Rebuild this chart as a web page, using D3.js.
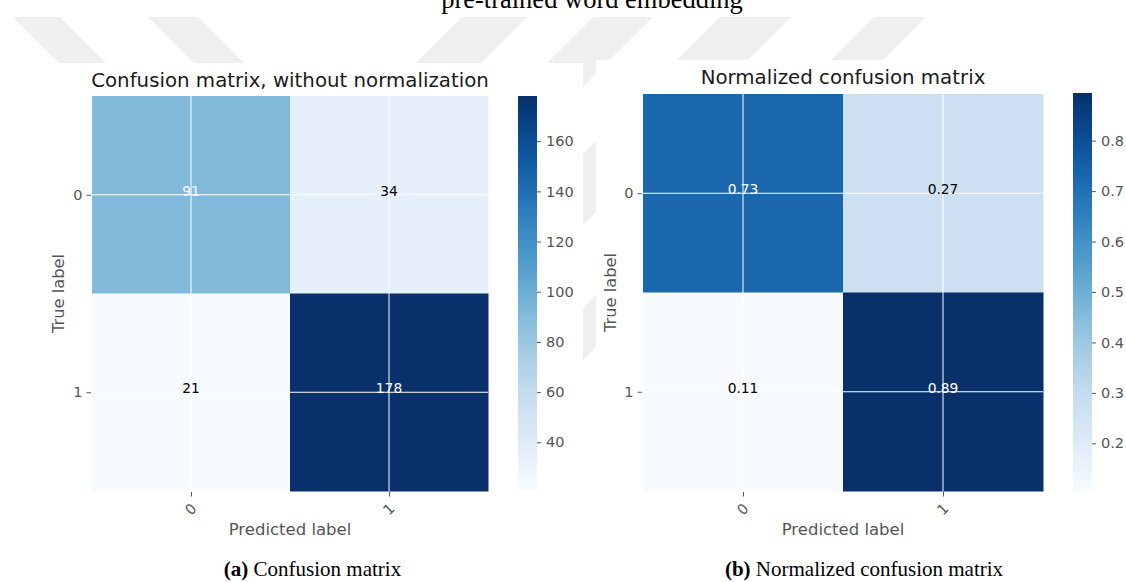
<!DOCTYPE html>
<html>
<head>
<meta charset="utf-8">
<script src="https://cdn.jsdelivr.net/npm/d3@7"></script>
<style>
  html, body { margin: 0; padding: 0; background: #fff; }
  svg { display: block; }
</style>
</head>
<body>
<svg id="chart" width="1126" height="582"></svg>
<script>
// ---------- data ----------
const classes = ["0", "1"];
const counts = [[91, 34], [21, 178]];
const normalized = [[0.728, 0.272], [0.1055, 0.8945]];
const countTicks = [40, 60, 80, 100, 120, 140, 160];
const normTicks = [0.2, 0.3, 0.4, 0.5, 0.6, 0.7, 0.8];
const titleA = "Confusion matrix, without normalization";
const titleB = "Normalized confusion matrix";
const topText = "pre-trained word embedding";

// ---------- drawing ----------
const svg = d3.select("#chart");
const FONT = "DejaVu Sans, sans-serif";
const SERIF = "Liberation Serif, Times New Roman, serif";
const GRAY = "#555555";

// watermark stripes (background decoration)
const wm = svg.append("g").attr("fill", "#efefef");
function stripe(xl, xr, y0, y1, dir) {
  const d = (y1 - y0) * dir;
  return `M${xl},${y0}L${xr},${y0}L${xr + d},${y1}L${xl + d},${y1}Z`;
}
wm.append("path").attr("d", stripe(13, 60, 17, 70, 1));
wm.append("path").attr("d", stripe(148, 198, 17, 70, 1));
wm.append("path").attr("d", stripe(462, 527, 17, 120, -1));
wm.append("path").attr("d", stripe(593, 653, 17, 200, -1));
wm.append("path").attr("d", stripe(720, 791, 17, 300, -1));
wm.append("path").attr("d", stripe(874, 926, 17, 420, -1));

// figure backgrounds
svg.append("rect").attr("x", 0).attr("y", 63).attr("width", 583).attr("height", 490).attr("fill", "#fff");
svg.append("rect").attr("x", 596).attr("y", 60).attr("width", 530).attr("height", 493).attr("fill", "#fff");

// top heading (cut off at the top edge, as in the reference)
svg.append("text").attr("x", 592).attr("y", 8).attr("text-anchor", "middle")
  .attr("font-family", SERIF).attr("font-size", 26.5).attr("fill", "#000").text(topText);

function panel(opts) {
  const { matrix, ticks, fmt, left, right, top, bottom, cbLeft, cbTop, cbBottom, title, titleX, titleY, ylabX, tickFmt } = opts;
  const g = svg.append("g");
  const flat = matrix.flat();
  const vmin = d3.min(flat), vmax = d3.max(flat);
  const color = d3.scaleSequential(d3.interpolateBlues).domain([vmin, vmax]);
  const x = d3.scaleBand().domain(classes).range([left, right]).padding(0);
  const y = d3.scaleBand().domain(classes).range([top, bottom]).padding(0);

  const cells = [];
  matrix.forEach((row, i) => row.forEach((v, j) => cells.push({ i, j, v })));

  g.selectAll("rect.cell").data(cells).join("rect")
    .attr("class", "cell")
    .attr("x", d => x(classes[d.j]))
    .attr("y", d => y(classes[d.i]))
    .attr("width", x.bandwidth() + 0.5)
    .attr("height", y.bandwidth() + 0.5)
    .attr("fill", d => color(d.v));

  // grid lines at tick centres
  classes.forEach(c => {
    const cx = x(c) + x.bandwidth() / 2;
    const cy = y(c) + y.bandwidth() / 2;
    g.append("line").attr("x1", cx).attr("x2", cx).attr("y1", top).attr("y2", bottom)
      .attr("stroke", "#fff").attr("stroke-width", 1);
    g.append("line").attr("x1", left).attr("x2", right).attr("y1", cy).attr("y2", cy)
      .attr("stroke", "#fff").attr("stroke-width", 1);
  });

  // annotations
  const thresh = vmax / 2;
  g.selectAll("text.val").data(cells).join("text")
    .attr("class", "val")
    .attr("x", d => x(classes[d.j]) + x.bandwidth() / 2)
    .attr("y", d => y(classes[d.i]) + y.bandwidth() / 2 + 1)
    .attr("text-anchor", "middle")
    .attr("font-family", FONT).attr("font-size", 13.8)
    .attr("fill", d => d.v > thresh ? "#ffffff" : "#000000")
    .text(d => fmt(d.v));

  // y axis
  const yAxisPts = d3.scalePoint().domain(classes).range([y(classes[0]) + y.bandwidth() / 2, y(classes[1]) + y.bandwidth() / 2]);
  const ya = g.append("g").attr("transform", `translate(${left - 1},0)`)
    .call(d3.axisLeft(yAxisPts).tickSize(4.5).tickPadding(4));
  ya.select(".domain").remove();
  ya.selectAll("line").attr("stroke", GRAY);
  ya.selectAll("text").attr("font-family", FONT).attr("font-size", 14.5).attr("fill", GRAY);

  // x axis
  const xAxisPts = d3.scalePoint().domain(classes).range([x(classes[0]) + x.bandwidth() / 2, x(classes[1]) + x.bandwidth() / 2]);
  const xa = g.append("g").attr("transform", `translate(0,${bottom + 1})`)
    .call(d3.axisBottom(xAxisPts).tickSize(4.5).tickPadding(4));
  xa.select(".domain").remove();
  xa.selectAll("line").attr("stroke", GRAY);
  xa.selectAll("text").attr("font-family", FONT).attr("font-size", 14.5).attr("fill", GRAY)
    .attr("dy", null).attr("y", 0)
    .attr("text-anchor", "middle")
    .attr("transform", "translate(0,18) rotate(-45)")
    .attr("dominant-baseline", "middle");

  // axis labels
  g.append("text").attr("x", (left + right) / 2).attr("y", 535).attr("text-anchor", "middle")
    .attr("font-family", FONT).attr("font-size", 16.5).attr("fill", GRAY).text("Predicted label");
  g.append("text").attr("transform", `translate(${ylabX},${(top + bottom) / 2}) rotate(-90)`)
    .attr("text-anchor", "middle").attr("font-family", FONT).attr("font-size", 16.3)
    .attr("fill", GRAY).text("True label");

  // title
  g.append("text").attr("x", titleX).attr("y", titleY).attr("text-anchor", "middle")
    .attr("font-family", FONT).attr("font-size", 19.8).attr("fill", "#1a1a1a").text(title);

  // colorbar
  const cbW = 19;
  const gradId = "grad" + Math.round(cbLeft);
  const grad = svg.append("defs").append("linearGradient").attr("id", gradId)
    .attr("x1", 0).attr("y1", 1).attr("x2", 0).attr("y2", 0);
  d3.range(0, 1.0001, 0.05).forEach(t => {
    grad.append("stop").attr("offset", t).attr("stop-color", d3.interpolateBlues(t));
  });
  g.append("rect").attr("x", cbLeft).attr("y", cbTop).attr("width", cbW).attr("height", cbBottom - cbTop)
    .attr("fill", `url(#${gradId})`);
  const cbScale = d3.scaleLinear().domain([vmin, vmax]).range([cbBottom, cbTop]);
  const cba = g.append("g").attr("transform", `translate(${cbLeft + cbW},0)`)
    .call(d3.axisRight(cbScale).tickValues(ticks).tickFormat(tickFmt).tickSize(4).tickPadding(5));
  cba.select(".domain").remove();
  cba.selectAll("line").attr("stroke", GRAY);
  cba.selectAll("text").attr("font-family", FONT).attr("font-size", 14.5).attr("fill", GRAY);
}

panel({
  matrix: counts, ticks: countTicks, fmt: v => String(v), tickFmt: d3.format("d"),
  left: 92, right: 488, top: 96, bottom: 491,
  cbLeft: 518, cbTop: 96, cbBottom: 490,
  title: titleA, titleX: 290, titleY: 87, ylabX: 64
});
panel({
  matrix: normalized, ticks: normTicks, fmt: v => v.toFixed(2), tickFmt: d3.format(".1f"),
  left: 643, right: 1043, top: 94, bottom: 491,
  cbLeft: 1073, cbTop: 93, cbBottom: 491,
  title: titleB, titleX: 843, titleY: 84, ylabX: 616
});

// captions
function caption(cx, bold, rest) {
  const t = svg.append("text").attr("x", cx).attr("y", 576).attr("text-anchor", "middle")
    .attr("font-family", SERIF).attr("font-size", 21).attr("fill", "#000");
  t.append("tspan").attr("font-weight", "bold").text(bold);
  t.append("tspan").text(" " + rest);
}
caption(312.5, "(a)", "Confusion matrix");
caption(864, "(b)", "Normalized confusion matrix");
</script>
</body>
</html>
